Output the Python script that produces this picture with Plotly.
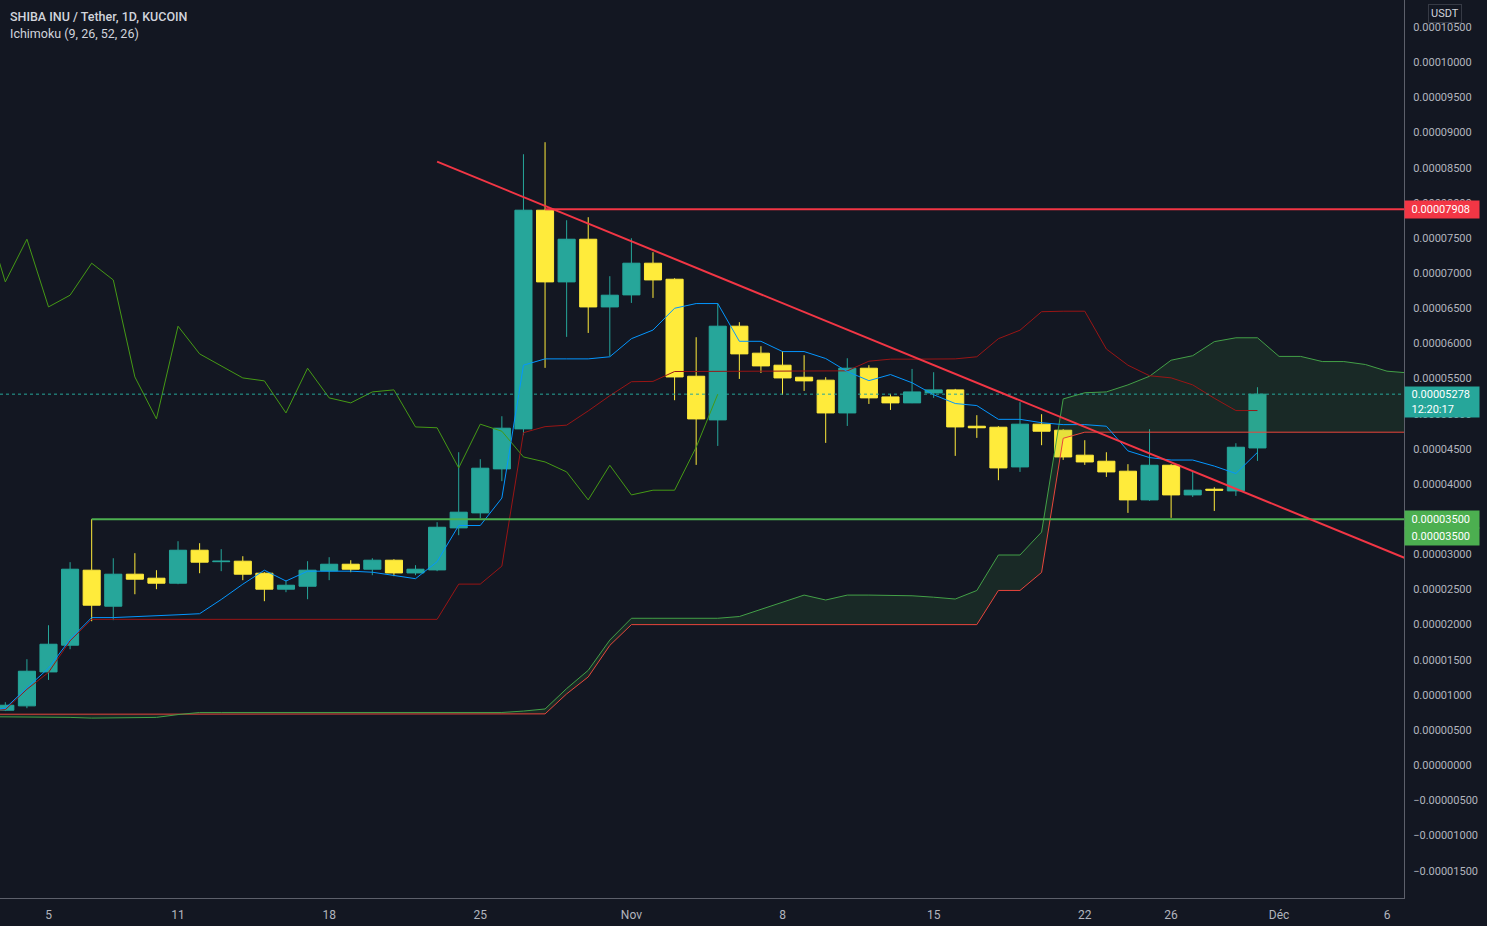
import plotly.graph_objects as go
import pandas as pd

SCALE = 1e-5  # all values below are in units of 0.00001 USDT

# ---------------- candles (daily, from 2021-10-03) ----------------
candle_start = "2021-10-03"
opens = [0.782, 0.844, 1.327, 1.707, 2.774, 2.262, 2.717, 2.660, 2.589, 3.058,
         2.895, 2.902, 2.731, 2.504, 2.546, 2.764, 2.859, 2.788, 2.916, 2.735,
         2.778, 3.376, 3.589, 4.215, 4.784, 7.895, 6.875, 7.482, 6.519, 6.690,
         7.141, 6.913, 5.533, 4.912, 6.245, 5.861, 5.690, 5.519, 5.477, 5.011,
         5.647, 5.239, 5.154, 5.296, 5.339, 4.822, 4.808, 4.243, 4.851, 4.765,
         4.410, 4.324, 4.182, 3.774, 4.267, 3.845, 3.926, 3.902, 4.513]
highs = [0.896, 1.508, 1.991, 2.888, 3.500, 2.944, 3.016, 2.774, 3.186, 3.158,
         3.073, 2.973, 2.745, 2.632, 2.902, 2.959, 2.916, 2.944, 2.930, 2.845,
         3.457, 4.452, 4.353, 4.964, 8.691, 8.862, 7.752, 7.795, 6.956, 7.496,
         7.297, 6.927, 6.088, 6.572, 6.302, 5.960, 5.889, 5.832, 5.519, 5.789,
         5.690, 5.282, 5.637, 5.590, 5.353, 4.979, 4.822, 5.164, 4.993, 4.780,
         4.623, 4.452, 4.282, 4.780, 4.282, 4.172, 3.954, 4.580, 5.377]
lows = [0.770, 0.811, 1.213, 1.650, 2.048, 2.063, 2.432, 2.504, 2.575, 2.731,
        2.760, 2.632, 2.333, 2.461, 2.361, 2.632, 2.745, 2.703, 2.689, 2.703,
        2.760, 3.272, 3.514, 4.040, 4.694, 5.652, 6.093, 6.149, 5.818, 6.576,
        6.647, 5.192, 4.272, 4.542, 5.495, 5.580, 5.267, 5.324, 4.585, 4.826,
        5.139, 5.054, 5.150, 5.225, 4.400, 4.656, 4.054, 4.172, 4.552, 4.343,
        4.272, 4.101, 3.589, 3.760, 3.518, 3.816, 3.617, 3.831, 4.329]
closes = [0.853, 1.337, 1.721, 2.788, 2.276, 2.717, 2.646, 2.589, 3.058, 2.888,
          2.902, 2.717, 2.504, 2.560, 2.774, 2.859, 2.788, 2.916, 2.735, 2.788,
          3.385, 3.599, 4.225, 4.794, 7.895, 6.875, 7.482, 6.519, 6.686, 7.141,
          6.903, 5.523, 4.926, 6.245, 5.851, 5.680, 5.509, 5.467, 5.011, 5.647,
          5.225, 5.154, 5.310, 5.339, 4.812, 4.800, 4.229, 4.851, 4.751, 4.385,
          4.314, 4.172, 3.774, 4.267, 3.845, 3.912, 3.912, 4.523, 5.278]

# ---------------- Ichimoku lines ----------------
line_start = "2021-10-02"
tenkan = [0.78, 0.81, 1.10, 1.38, 1.79, 2.10, 2.10, 2.11, 2.12, 2.14,
          2.155, 2.357, 2.575, 2.774, 2.62, 2.76, 2.76, 2.76, 2.745, 2.70,
          2.653, 2.895, 3.41, 3.41, 3.80, 5.69, 5.78, 5.78, 5.78, 5.81,
          6.067, 6.19, 6.50, 6.567, 6.567, 6.03, 6.03, 5.884, 5.884, 5.785,
          5.60, 5.47, 5.557, 5.44, 5.27, 5.145, 5.116, 4.92, 4.92, 4.872,
          4.845, 4.845, 4.822, 4.471, 4.376, 4.341, 4.341, 4.255, 4.149, 4.45]
kijun = [0.77, 0.79, 1.08, 1.32, 1.77, 2.075, 2.075, 2.075, 2.075, 2.075,
         2.075, 2.075, 2.075, 2.075, 2.075, 2.075, 2.075, 2.075, 2.075, 2.075,
         2.075, 2.075, 2.576, 2.576, 2.832, 4.73, 4.816, 4.837, 5.04, 5.256,
         5.455, 5.46, 5.60, 5.60, 5.60, 5.60, 5.60, 5.60, 5.60, 5.61,
         5.61, 5.747, 5.776, 5.776, 5.776, 5.78, 5.81, 6.067, 6.188, 6.451,
         6.458, 6.458, 5.92, 5.69, 5.54, 5.51, 5.41, 5.22, 5.045, 5.045]
lagging = [7.895, 6.875, 7.482, 6.519, 6.686, 7.141, 6.903, 5.523, 4.926, 6.245,
           5.851, 5.680, 5.509, 5.467, 5.011, 5.647, 5.225, 5.154, 5.310, 5.339,
           4.812, 4.800, 4.229, 4.851, 4.751, 4.385, 4.314, 4.172, 3.774, 4.267,
           3.845, 3.912, 3.912, 4.523, 5.278]
senkou_a = [0.69, 0.69, 0.69, 0.69, 0.68, 0.67, 0.67, 0.67, 0.68, 0.72,
            0.75, 0.75, 0.75, 0.75, 0.75, 0.75, 0.75, 0.75, 0.75, 0.75,
            0.75, 0.75, 0.75, 0.75, 0.75, 0.77, 0.80, 1.09, 1.35, 1.78,
            2.09, 2.09, 2.09, 2.09, 2.09, 2.115, 2.216, 2.325, 2.42, 2.35,
            2.42, 2.42, 2.42, 2.41, 2.39, 2.364, 2.485, 2.99, 2.99, 3.316,
            5.21, 5.298, 5.31, 5.41, 5.533, 5.761, 5.825, 6.025, 6.08, 6.08,
            5.815, 5.815, 5.742, 5.742, 5.70, 5.605, 5.58]
senkou_b = [0.725, 0.725, 0.725, 0.725, 0.725, 0.725, 0.725, 0.725, 0.725, 0.725,
            0.725, 0.725, 0.725, 0.725, 0.725, 0.725, 0.725, 0.725, 0.725, 0.725,
            0.725, 0.725, 0.725, 0.725, 0.725, 0.725, 0.73, 1.014, 1.256, 1.704,
            2.00, 2.00, 2.00, 2.00, 2.00, 2.00, 2.00, 2.00, 2.00, 2.00,
            2.00, 2.00, 2.00, 2.00, 2.00, 2.00, 2.00, 2.486, 2.486, 2.742,
            4.65, 4.737, 4.737, 4.737, 4.737, 4.737, 4.737, 4.737, 4.737, 4.737,
            4.737, 4.737, 4.737, 4.737, 4.737, 4.737, 4.737]

# ---------------- drawings ----------------
resistance_price = 7.908
resistance_start = "2021-10-28"
support_price = 3.5
support_start = "2021-10-07"
trend_dates = ["2021-10-23", "2021-12-08"]
trend_prices = [8.585, 2.80]
last_price = 5.278
countdown = "12:20:17"

# ---------------- axes ----------------
x_range = ["2021-10-02 18:05", "2021-12-06 18:53"]
y_range = [-1.889, 10.885]
tick_dates = ["2021-10-05", "2021-10-11", "2021-10-18", "2021-10-25", "2021-11-01",
              "2021-11-08", "2021-11-15", "2021-11-22", "2021-11-26", "2021-12-01",
              "2021-12-06"]
tick_labels = ["5", "11", "18", "25", "Nov", "8", "15", "22", "26", "Déc", "6"]

BG = "#131722"
TEAL = "#26a69a"
YELLOW = "#ffeb3b"
TXT = "#b2b5be"
FONT = "Roboto"
PAD = "\u00a0\u00a0"

cd = pd.date_range(candle_start, periods=len(closes), freq="D")


def sc(v):
    return [a * SCALE for a in v]


def dates(n):
    return pd.date_range(line_start, periods=n, freq="D")


fig = go.Figure()

# cloud
fig.add_trace(go.Scatter(x=dates(len(senkou_b)), y=sc(senkou_b), mode="lines",
                         line=dict(color="#e8453c", width=1), hoverinfo="skip"))
fig.add_trace(go.Scatter(x=dates(len(senkou_a)), y=sc(senkou_a), mode="lines",
                         line=dict(color="#43a047", width=1), fill="tonexty",
                         fillcolor="rgba(67,160,71,0.13)", hoverinfo="skip"))
# lagging span
fig.add_trace(go.Scatter(x=dates(len(lagging)), y=sc(lagging), mode="lines",
                         line=dict(color="#459915", width=1), hoverinfo="skip"))
# base line
fig.add_trace(go.Scatter(x=dates(len(kijun)), y=sc(kijun), mode="lines",
                         line=dict(color="#991515", width=1), hoverinfo="skip"))
# conversion line
fig.add_trace(go.Scatter(x=dates(len(tenkan)), y=sc(tenkan), mode="lines",
                         line=dict(color="#0496ff", width=1), hoverinfo="skip"))

# candles
fig.add_trace(go.Candlestick(
    x=cd, open=sc(opens), high=sc(highs), low=sc(lows), close=sc(closes),
    increasing=dict(line=dict(color=TEAL, width=1), fillcolor=TEAL),
    decreasing=dict(line=dict(color=YELLOW, width=1), fillcolor=YELLOW),
    whiskerwidth=0, hoverinfo="skip"))

# current price dotted line
fig.add_shape(type="line", xref="paper", x0=0, x1=1, yref="y",
              y0=last_price * SCALE, y1=last_price * SCALE,
              line=dict(color=TEAL, width=1, dash="dot"))
# horizontal resistance & support
fig.add_shape(type="line", xref="x", yref="y", x0=resistance_start, x1="2021-12-12",
              y0=resistance_price * SCALE, y1=resistance_price * SCALE,
              line=dict(color="#f23645", width=2))
fig.add_shape(type="line", xref="x", yref="y", x0=support_start, x1="2021-12-12",
              y0=support_price * SCALE, y1=support_price * SCALE,
              line=dict(color="#4caf50", width=2))
# trend line
fig.add_shape(type="line", xref="x", yref="y", x0=trend_dates[0], x1=trend_dates[1],
              y0=trend_prices[0] * SCALE, y1=trend_prices[1] * SCALE,
              line=dict(color="#f23645", width=2))


def price_label(price, text, color, yshift=0, height=15, yanchor="middle"):
    fig.add_annotation(xref="paper", x=1.0, xanchor="left", yref="y", y=price * SCALE,
                       yanchor=yanchor, yshift=yshift, text=text, showarrow=False,
                       bgcolor=color, borderpad=1, width=72, height=height,
                       align="left", font=dict(color="#ffffff", size=11, family=FONT))


price_label(resistance_price, PAD + "0.%08d" % round(resistance_price * 1000), "#f23645")
price_label(last_price, PAD + "0.%08d<br>" % round(last_price * 1000) + PAD + countdown,
            TEAL, yshift=8, height=28, yanchor="top")
price_label(support_price, PAD + "0.%08d" % round(support_price * 1000), "#4caf50")
price_label(support_price, PAD + "0.%08d" % round(support_price * 1000), "#4caf50", yshift=-17)

# USDT badge
fig.add_annotation(xref="paper", x=1445 / 1404, xanchor="center", yref="paper",
                   y=1 - 14 / 898, yanchor="middle", text="USDT", showarrow=False,
                   bgcolor=BG, bordercolor="#363a45", borderwidth=1, borderpad=2,
                   font=dict(color="#d1d4dc", size=11, family=FONT))

# titles
fig.add_annotation(xref="paper", x=8 / 1404, xanchor="left", yref="paper",
                   y=1 - 16 / 898, yanchor="middle", text="SHIBA INU / Tether, 1D, KUCOIN",
                   showarrow=False, font=dict(color="#d1d4dc", size=12.5, family=FONT, weight=500))
fig.add_annotation(xref="paper", x=8 / 1404, xanchor="left", yref="paper",
                   y=1 - 33 / 898, yanchor="middle", text="Ichimoku (9, 26, 52, 26)",
                   showarrow=False, font=dict(color="#d1d4dc", size=12.5, family=FONT))

fig.update_layout(
    width=1487, height=926, autosize=False,
    margin=dict(l=0, r=83, t=0, b=28),
    paper_bgcolor=BG, plot_bgcolor=BG,
    showlegend=False, boxgap=0.12, boxgroupgap=0.1,
    font=dict(family=FONT, color=TXT),
    xaxis=dict(type="date", range=x_range, tickvals=tick_dates, ticktext=tick_labels,
               showgrid=False, zeroline=False, showline=True, linecolor="#5d606b",
               ticks="outside", ticklen=6, tickcolor="rgba(0,0,0,0)",
               tickfont=dict(size=12, color=TXT, family=FONT),
               rangeslider=dict(visible=False), fixedrange=True),
    yaxis=dict(side="right", range=[y_range[0] * SCALE, y_range[1] * SCALE],
               tick0=0, dtick=0.5 * SCALE, tickformat=".8f",
               showgrid=False, zeroline=False, showline=True, linecolor="#5d606b",
               ticks="outside", ticklen=6, tickcolor="rgba(0,0,0,0)",
               tickfont=dict(size=11, color=TXT, family=FONT), fixedrange=True),
)

fig.write_html("out.html", config={"displayModeBar": False},
               post_script="document.body.style.margin='0';"
                           "document.body.style.background='#131722';"
                           "document.body.style.overflow='hidden';")
